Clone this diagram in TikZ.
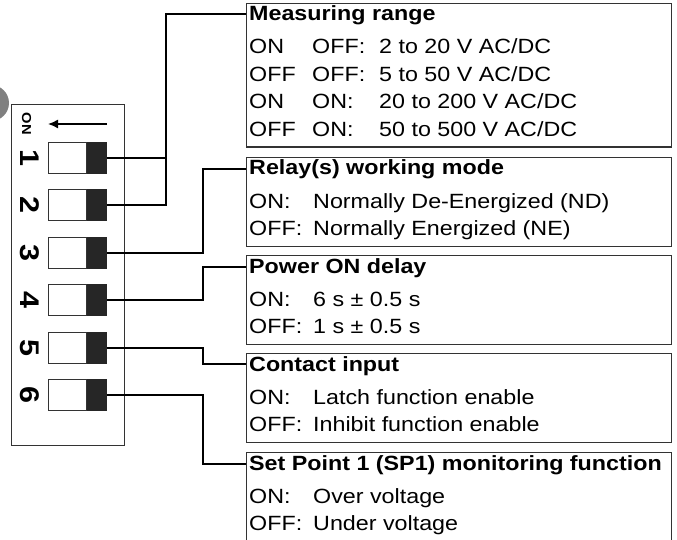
\documentclass[tikz,border=0pt]{standalone}
\usepackage{fontspec}
\setmainfont{Liberation Sans}[FakeStretch=1.13]
\usetikzlibrary{arrows.meta}
\begin{document}
\begin{tikzpicture}[x=1pt,y=-1pt,
	every node/.style={inner sep=0pt,font=\fontsize{20.6}{27.5}\selectfont},
	infobox/.style={draw=black!80,line width=1.2pt,minimum width=425pt,anchor=north west},
	wire/.style={line width=2pt,line join=miter},
	slot/.style={draw=black!80,line width=1pt,fill=white,minimum width=38pt,minimum height=31pt,anchor=east},
	knob/.style={draw=black!85,fill=black!85,line width=1pt,minimum width=19pt,minimum height=31pt,anchor=west},
	digit/.style={font=\fontsize{27}{27}\bfseries\selectfont,rotate=-90},
	head/.style={font=\fontsize{20.6}{27.5}\bfseries\selectfont,anchor=base west},
	txt/.style={anchor=base west}]
	\useasboundingbox (0,0) rectangle (677,540);
	\fill[black!50] (-9,103) circle (18);
	\node[draw=black!80,line width=1pt,minimum width=113pt,minimum height=341pt,anchor=north west] (dip) at (11,104) {};
	\node[font=\fontsize{13}{13}\bfseries\selectfont,rotate=-90] (onlbl) at (26.5,124) {ON};
	\foreach \i/\y in {1/158,2/205.4,3/252.8,4/300.2,5/347.6,6/395} {
		\node[slot] (sw\i) at (87,\y) {};
		\node[knob] (kn\i) at (87,\y) {};
		\node[digit] (n\i) at (29.5,\y) {\i};
	}
	\draw[line width=1.5pt,-{Latex[length=10pt,width=9pt]}] (kn1.east |- onlbl) -- (sw1.west |- onlbl);
	% boxes
	\node[infobox,minimum height=143.5pt] (range) at (246,3) {};
	\node[infobox,minimum height=88.5pt] (relay) at (246,157) {};
	\node[infobox,minimum height=88.5pt] (delay) at (246,255) {};
	\node[infobox,minimum height=88.5pt] (contact) at (246,353) {};
	\node[infobox,minimum height=110pt] (setpt) at (246,452) {};
	\node[head] (rangeh) at (249,21) {Measuring range};
	\node[txt] (r1a) at (249,54) {ON};
	\node[txt] (r1b) at (312,54) {OFF:};
	\node[txt] (r1c) at (379,54) {2 to 20 V AC/DC};
	\node[txt] (r2a) at (249,81.5) {OFF};
	\node[txt] (r2b) at (312,81.5) {OFF:};
	\node[txt] (r2c) at (379,81.5) {5 to 50 V AC/DC};
	\node[txt] (r3a) at (249,109) {ON};
	\node[txt] (r3b) at (312,109) {ON:};
	\node[txt] (r3c) at (379,109) {20 to 200 V AC/DC};
	\node[txt] (r4a) at (249,136.5) {OFF};
	\node[txt] (r4b) at (312,136.5) {ON:};
	\node[txt] (r4c) at (379,136.5) {50 to 500 V AC/DC};
	\node[head] (relayh) at (249,175) {Relay(s) working mode};
	\node[txt] (m1a) at (249,208) {ON:};
	\node[txt] (m1b) at (313,208) {Normally De-Energized (ND)};
	\node[txt] (m2a) at (249,235.5) {OFF:};
	\node[txt] (m2b) at (313,235.5) {Normally Energized (NE)};
	\node[head] (delayh) at (249,273) {Power ON delay};
	\node[txt] (d1a) at (249,306) {ON:};
	\node[txt] (d1b) at (313,306) {6 s ± 0.5 s};
	\node[txt] (d2a) at (249,333.5) {OFF:};
	\node[txt] (d2b) at (313,333.5) {1 s ± 0.5 s};
	\node[head] (contacth) at (249,371) {Contact input};
	\node[txt] (c1a) at (249,404) {ON:};
	\node[txt] (c1b) at (313,404) {Latch function enable};
	\node[txt] (c2a) at (249,431.5) {OFF:};
	\node[txt] (c2b) at (313,431.5) {Inhibit function enable};
	\node[head] (setpth) at (249,470) {Set Point 1 (SP1) monitoring function};
	\node[txt] (p1a) at (249,503) {ON:};
	\node[txt] (p1b) at (313,503) {Over voltage};
	\node[txt] (p2a) at (249,530.5) {OFF:};
	\node[txt] (p2b) at (313,530.5) {Under voltage};
	% wiring
	\coordinate (busA) at (166,0);
	\coordinate (busB) at (203,0);
	\coordinate (rangein) at ([yshift=-11pt]range.north west);
	\coordinate (relayin) at ([yshift=-12pt]relay.north west);
	\coordinate (delayin) at ([yshift=-12pt]delay.north west);
	\coordinate (contactin) at ([yshift=-11pt]contact.north west);
	\coordinate (setptin) at ([yshift=-12pt]setpt.north west);
	\draw[wire] (kn2.east) -| (busA |- rangein) -- (rangein);
	\draw[wire] (kn1.east) -- (kn1.east -| busA);
	\draw[wire] (kn3.east) -| (busB |- relayin) -- (relayin);
	\draw[wire] (kn4.east) -| (busB |- delayin) -- (delayin);
	\draw[wire] (kn5.east) -| (busB |- contactin) -- (contactin);
	\draw[wire] (kn6.east) -| (busB |- setptin) -- (setptin);
\end{tikzpicture}
\end{document}
